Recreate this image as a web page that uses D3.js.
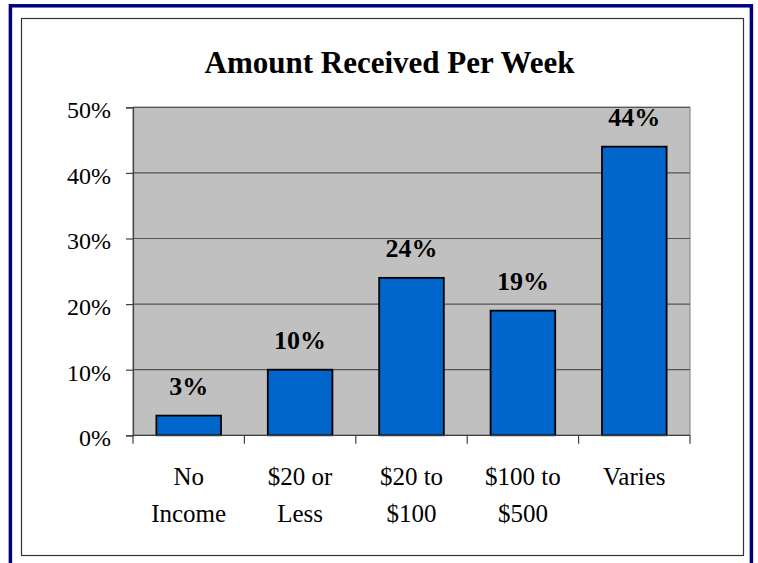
<!DOCTYPE html>
<html>
<head>
<meta charset="utf-8">
<script src="https://cdn.jsdelivr.net/npm/d3@7"></script>
<style>
    html, body { margin: 0; padding: 0; background: #fff; }
    svg { display: block; }
</style>
</head>
<body>
<svg id="chart" width="758" height="563"></svg>
<script>
var title = "Amount Received Per Week";
var categories = ["No\nIncome", "$20 or\nLess", "$20 to\n$100", "$100 to\n$500", "Varies"];
var percents = [3, 10, 24, 19, 44];
var yTicks = [0, 10, 20, 30, 40, 50];

var svg = d3.select("#chart"),
    margin = { top: 107.3, right: 68, bottom: 127.7, left: 133 },
    w = 758, h = 563;

var width = w - margin.left - margin.right,
    height = h - margin.top - margin.bottom;

// frames
svg.append("rect")
    .attr("x", 10.4).attr("y", 5.8)
    .attr("width", 741).attr("height", 600)
    .attr("fill", "none").attr("stroke", "#000080").attr("stroke-width", 3.5);
svg.append("rect")
    .attr("x", 21.5).attr("y", 18.5)
    .attr("width", 722).attr("height", 537)
    .attr("fill", "#fff").attr("stroke", "#333").attr("stroke-width", 1.2);

svg.append("text")
    .attr("x", 389.5).attr("y", 73.3)
    .attr("text-anchor", "middle")
    .attr("font-family", "Liberation Serif")
    .attr("font-weight", "bold")
    .attr("font-size", 31)
    .text(title);

var g = svg.append("g")
    .attr("transform", "translate(" + margin.left + "," + margin.top + ")");

var x = d3.scaleBand().domain(categories).range([0, width])
    .paddingInner(0.42).paddingOuter(0.21);
var xCat = d3.scaleBand().domain(categories).range([0, width]);
var y = d3.scaleLinear().domain([0, 50]).range([height, 0]);

g.append("rect")
    .attr("width", width).attr("height", height)
    .attr("fill", "#c0c0c0").attr("stroke", "#808080").attr("stroke-width", 1);

g.selectAll(".grid")
    .data(yTicks.slice(1))
    .enter().append("line")
    .attr("class", "grid")
    .attr("x1", 0).attr("x2", width)
    .attr("y1", function(d) { return y(d); })
    .attr("y2", function(d) { return y(d); })
    .attr("stroke", "#555").attr("stroke-width", 1.2);

g.selectAll(".bar")
    .data(percents)
    .enter().append("rect")
    .attr("class", "bar")
    .attr("x", function(d, i) { return x(categories[i]); })
    .attr("y", function(d) { return y(d); })
    .attr("width", x.bandwidth())
    .attr("height", function(d) { return height - y(d); })
    .attr("fill", "#0066cc")
    .attr("stroke", "#000").attr("stroke-width", 1.8);

g.selectAll(".label")
    .data(percents)
    .enter().append("text")
    .attr("class", "label")
    .attr("x", function(d, i) { return x(categories[i]) + x.bandwidth() / 2; })
    .attr("y", function(d) { return y(d) - 20.5; })
    .attr("text-anchor", "middle")
    .attr("font-family", "Liberation Serif")
    .attr("font-weight", "bold")
    .attr("font-size", 26)
    .text(function(d) { return d + "%"; });

// y axis: lines from d3.axisLeft, labels as plain text on the same scale
var yAxis = g.append("g")
    .call(d3.axisLeft(y).tickValues(yTicks).tickFormat("").tickSize(7));
yAxis.selectAll(".tick text").remove();
yAxis.select(".domain").attr("stroke", "#404040").attr("stroke-width", 1.2);
yAxis.selectAll(".tick line").attr("stroke", "#404040").attr("stroke-width", 1.2);

g.selectAll(".ylab")
    .data(yTicks)
    .enter().append("text")
    .attr("class", "ylab")
    .attr("x", -22)
    .attr("y", function(d) { return y(d) + 11; })
    .attr("text-anchor", "end")
    .attr("font-family", "Liberation Serif")
    .attr("font-size", 24)
    .attr("fill", "#000")
    .text(function(d) { return d + "%"; });

// x axis with ticks at category boundaries
var xAxis = g.append("g").attr("transform", "translate(0," + height + ")");
xAxis.append("line")
    .attr("x1", 0).attr("x2", width)
    .attr("stroke", "#404040").attr("stroke-width", 1.2);
xAxis.selectAll(".xtick")
    .data(categories.map(function(c) { return xCat(c); }).concat([width]))
    .enter().append("line")
    .attr("class", "xtick")
    .attr("x1", function(d) { return d; }).attr("x2", function(d) { return d; })
    .attr("y1", 0).attr("y2", 8.5)
    .attr("stroke", "#404040").attr("stroke-width", 1.2);

// category labels, one text element per line
var catLines = [];
categories.forEach(function(c) {
    c.split("\n").forEach(function(line, i) {
        catLines.push({ cat: c, text: line, row: i });
    });
});

xAxis.selectAll(".cat")
    .data(catLines)
    .enter().append("text")
    .attr("class", "cat")
    .attr("x", function(d) { return xCat(d.cat) + xCat.bandwidth() / 2; })
    .attr("y", function(d) { return 49.7 + d.row * 36.7; })
    .attr("text-anchor", "middle")
    .attr("font-family", "Liberation Serif")
    .attr("font-size", 25)
    .attr("fill", "#000")
    .text(function(d) { return d.text; });
</script>
</body>
</html>
